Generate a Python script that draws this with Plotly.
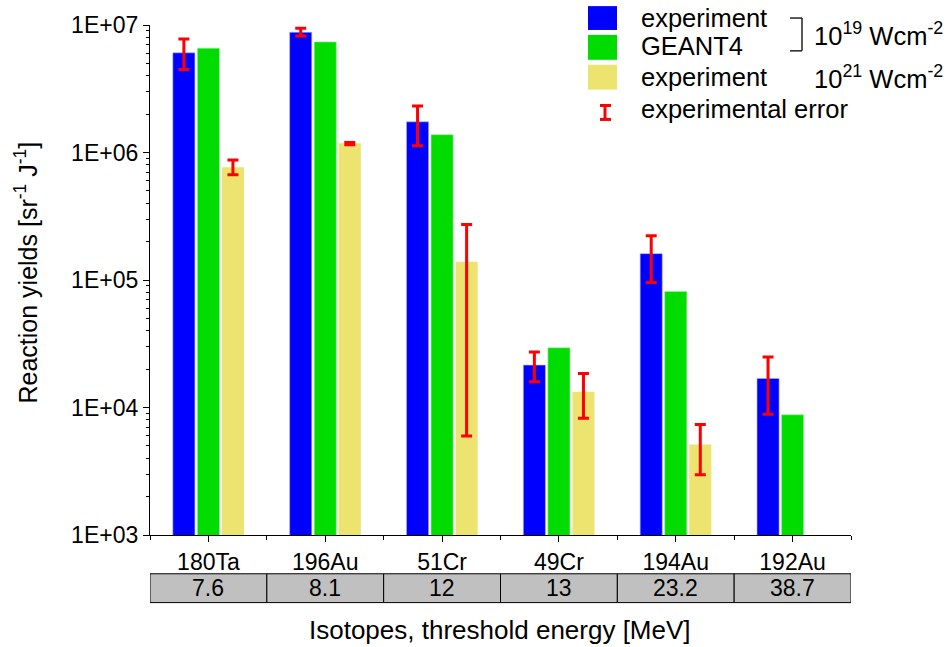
import plotly.graph_objects as go

isotopes = ["180Ta", "196Au", "51Cr", "49Cr", "194Au", "192Au"]
threshold = ["7.6", "8.1", "12", "13", "23.2", "38.7"]

exp19 = [6.05e6, 8.77e6, 1.74e6, 2.15e4, 1.61e5, 1.69e4]
exp19_hi = [7.78e6, 9.42e6, 2.32e6, 2.72e4, 2.22e5, 2.49e4]
exp19_lo = [4.48e6, 8.21e6, 1.13e6, 1.59e4, 9.55e4, 8.84e3]
geant4 = [6.58e6, 7.37e6, 1.38e6, 2.94e4, 8.13e4, 8.77e3]
exp21 = [7.67e5, 1.18e6, 1.39e5, 1.33e4, 5.13e3, None]
exp21_hi = [8.75e5, 1.20e6, 2.72e5, 1.85e4, 7.34e3, None]
exp21_lo = [6.68e5, 1.15e6, 5.98e3, 8.22e3, 2.97e3, None]

ytick_vals = [1e3, 1e4, 1e5, 1e6, 1e7]
ytick_text = ["1E+03", "1E+04", "1E+05", "1E+06", "1E+07"]

FONT = "Liberation Sans, Arial, sans-serif"
BLUE = "#0000ff"
GREEN = "#00dc00"
YELLOW = "#ece46e"
RED = "#ff0000"

W, H = 949, 647
L, R, T, B = 150, 98, 22, 112
PW, PH = W - L - R, H - T - B

TICK_SIZE = 23
LEG_SIZE = 25.5
TITLE_SIZE = 26


def px(x):
    return (x - L) / PW


def py(y):
    return (H - B - y) / PH


def plus(v, hi):
    return [None if a is None else b - a for a, b in zip(v, hi)]


def minus(v, lo):
    return [None if a is None else a - b for a, b in zip(v, lo)]


xs = list(range(len(isotopes)))
err_style = dict(type="data", symmetric=False, color=RED, thickness=3, width=5.5)

fig = go.Figure()
fig.add_trace(go.Bar(x=xs, y=exp19, marker=dict(color=BLUE, line=dict(color="#b0b0ff", width=0.6)),
                     error_y=dict(array=plus(exp19, exp19_hi), arrayminus=minus(exp19, exp19_lo), **err_style),
                     name="experiment 1e19"))
fig.add_trace(go.Bar(x=xs, y=geant4, marker=dict(color=GREEN, line=dict(color="#a0f0a0", width=0.6)),
                     name="GEANT4"))
fig.add_trace(go.Bar(x=xs, y=exp21, marker=dict(color=YELLOW, line=dict(width=0)),
                     error_y=dict(array=plus(exp21, exp21_hi), arrayminus=minus(exp21, exp21_lo), **err_style),
                     name="experiment 1e21"))

minor_vals = [m * 10 ** k for k in range(3, 7) for m in range(2, 10)]

fig.update_layout(
    width=W, height=H,
    margin=dict(l=L, r=R, t=T, b=B),
    paper_bgcolor="white", plot_bgcolor="white",
    barmode="group", bargap=0.37, bargroupgap=0.1,
    showlegend=False,
    font=dict(family=FONT, size=TICK_SIZE, color="black"),
    xaxis=dict(
        range=[-0.5, 5.5], tickvals=xs, ticktext=isotopes,
        ticks="outside", ticklen=6, tickwidth=1.2, tickcolor="black",
        showline=True, linecolor="black", linewidth=1.3, showgrid=False, zeroline=False,
        tickfont=dict(size=TICK_SIZE, family=FONT),
        minor=dict(tickvals=[i + 0.5 for i in range(-1, 6)], ticks="outside", ticklen=4,
                   tickcolor="black", tickwidth=1.2, showgrid=False),
    ),
    yaxis=dict(
        type="log", range=[3, 7], tickvals=ytick_vals, ticktext=ytick_text,
        ticks="outside", ticklen=6, tickwidth=1.2, tickcolor="black",
        showline=True, linecolor="black", linewidth=1.3, showgrid=False, zeroline=False,
        tickfont=dict(size=TICK_SIZE, family=FONT),
        minor=dict(tickvals=minor_vals, ticks="outside", ticklen=3, tickcolor="black",
                   tickwidth=1, showgrid=False),
    ),
)

shapes = []
annotations = []

# threshold-energy table under the axis
for i, t in enumerate(threshold):
    shapes.append(dict(type="rect", xref="x", yref="paper", x0=i - 0.5, x1=i + 0.5,
                       y0=py(603), y1=py(574), fillcolor="#c0c0c0",
                       line=dict(color="black", width=1), layer="above"))
    annotations.append(dict(xref="x", yref="paper", x=i, y=py(588.5), text=t, showarrow=False,
                            xanchor="center", yanchor="middle", font=dict(size=TICK_SIZE, family=FONT)))

# axis titles
annotations.append(dict(xref="paper", yref="paper", x=px(500), y=py(631),
                        text="Isotopes, threshold energy [MeV]", showarrow=False,
                        xanchor="center", yanchor="middle", font=dict(size=TITLE_SIZE, family=FONT)))
annotations.append(dict(xref="paper", yref="paper", x=px(26), y=py(271),
                        text="Reaction yields [sr<sup>-1</sup> J<sup>-1</sup>]", showarrow=False,
                        textangle=-90, xanchor="center", yanchor="middle",
                        font=dict(size=25, family=FONT)))

# custom legend
for color, y0, y1 in [(BLUE, 3, 27), (GREEN, 32, 57), (YELLOW, 62, 87)]:
    shapes.append(dict(type="rect", xref="paper", yref="paper", x0=px(588), x1=px(617),
                       y0=py(y1), y1=py(y0), fillcolor=color, line=dict(width=0)))
shapes.append(dict(type="line", xref="paper", yref="paper", x0=px(605), x1=px(605),
                   y0=py(117), y1=py(103), line=dict(color=RED, width=3)))
for yy in (103, 117):
    shapes.append(dict(type="line", xref="paper", yref="paper", x0=px(600), x1=px(611),
                       y0=py(yy), y1=py(yy), line=dict(color=RED, width=3)))

for text, yc in [("experiment", 15), ("GEANT4", 43), ("experiment", 74), ("experimental error", 106)]:
    annotations.append(dict(xref="paper", yref="paper", x=px(639), y=py(yc), text=text,
                            showarrow=False, xanchor="left", yanchor="middle",
                            font=dict(size=LEG_SIZE, family=FONT)))

# bracket
for x0, y0, x1, y1 in [(790, 15, 802, 15), (802, 15, 802, 48), (790, 48, 802, 48)]:
    shapes.append(dict(type="line", xref="paper", yref="paper", x0=px(x0), x1=px(x1),
                       y0=py(y0), y1=py(y1), line=dict(color="#222222", width=1.5)))

annotations.append(dict(xref="paper", yref="paper", x=px(812), y=py(31),
                        text="10<sup>19</sup> Wcm<sup>-2</sup>", showarrow=False,
                        xanchor="left", yanchor="middle", font=dict(size=LEG_SIZE, family=FONT)))
annotations.append(dict(xref="paper", yref="paper", x=px(812), y=py(74),
                        text="10<sup>21</sup> Wcm<sup>-2</sup>", showarrow=False,
                        xanchor="left", yanchor="middle", font=dict(size=LEG_SIZE, family=FONT)))

fig.update_layout(shapes=shapes, annotations=annotations)
fig.write_html("out.html")
